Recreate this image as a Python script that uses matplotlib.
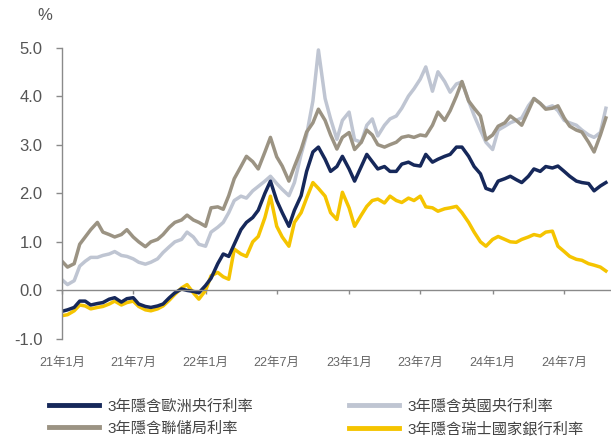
import matplotlib
matplotlib.use("Agg")
import matplotlib.pyplot as plt
import pandas as pd

plt.rcParams['font.family'] = ['Liberation Sans', 'Noto Sans CJK TC', 'DejaVu Sans']
plt.rcParams['axes.unicode_minus'] = False

# semi-monthly observations, Jan 2021 - Oct 2024
dates = pd.date_range("2021-01-01", "2024-10-15", freq="SMS")

ecb = [-0.43, -0.40, -0.35, -0.22, -0.22, -0.30, -0.27, -0.25, -0.18, -0.15,
       -0.24, -0.17, -0.15, -0.28, -0.33, -0.35, -0.32, -0.28, -0.15, -0.05,
       0.03, 0.00, -0.02, -0.05, 0.10, 0.25, 0.55, 0.75, 0.70, 0.95,
       1.25, 1.40, 1.50, 1.65, 2.00, 2.25, 1.85, 1.60, 1.32, 1.65,
       1.95, 2.45, 2.85, 2.95, 2.70, 2.45, 2.55, 2.76, 2.50, 2.25,
       2.55, 2.80, 2.65, 2.50, 2.55, 2.45, 2.45, 2.60, 2.64, 2.58,
       2.56, 2.80, 2.64, 2.70, 2.76, 2.80, 2.95, 2.95, 2.76, 2.55,
       2.40, 2.10, 2.05, 2.25, 2.30, 2.35, 2.28, 2.22, 2.35, 2.50,
       2.45, 2.55, 2.52, 2.56, 2.45, 2.35, 2.25, 2.22, 2.20, 2.05,
       2.15, 2.22]

fed = [0.60, 0.48, 0.55, 0.95, 1.10, 1.25, 1.40, 1.20, 1.15, 1.10,
       1.15, 1.25, 1.10, 1.00, 0.90, 1.00, 1.05, 1.15, 1.30, 1.40,
       1.45, 1.55, 1.45, 1.40, 1.32, 1.70, 1.72, 1.67, 1.95, 2.30,
       2.55, 2.76, 2.65, 2.50, 2.85, 3.15, 2.75, 2.56, 2.25, 2.55,
       2.90, 3.26, 3.45, 3.73, 3.50, 3.20, 2.91, 3.15, 3.25, 2.90,
       3.05, 3.30, 3.20, 3.00, 2.95, 3.00, 3.05, 3.15, 3.18, 3.15,
       3.20, 3.18, 3.40, 3.67, 3.50, 3.70, 4.00, 4.30, 3.90, 3.75,
       3.59, 3.10, 3.20, 3.38, 3.45, 3.59, 3.50, 3.40, 3.70, 3.95,
       3.85, 3.73, 3.75, 3.80, 3.55, 3.38, 3.30, 3.26, 3.05, 2.85,
       3.20, 3.55]

boe = [0.22, 0.12, 0.20, 0.50, 0.60, 0.68, 0.68, 0.72, 0.75, 0.80,
       0.72, 0.70, 0.65, 0.58, 0.54, 0.58, 0.65, 0.78, 0.90, 1.00,
       1.05, 1.20, 1.10, 0.95, 0.91, 1.20, 1.30, 1.40, 1.60, 1.85,
       1.94, 1.90, 2.05, 2.14, 2.25, 2.35, 2.20, 2.08, 1.95, 2.22,
       2.80, 3.20, 3.90, 4.95, 3.95, 3.53, 3.11, 3.50, 3.67, 3.10,
       3.05, 3.40, 3.53, 3.18, 3.40, 3.53, 3.59, 3.75, 4.00, 4.15,
       4.35, 4.60, 4.10, 4.50, 4.30, 4.08, 4.25, 4.29, 3.90, 3.60,
       3.30, 3.05, 2.90, 3.30, 3.38, 3.45, 3.50, 3.55, 3.80, 3.95,
       3.85, 3.75, 3.80, 3.70, 3.50, 3.45, 3.40, 3.30, 3.20, 3.15,
       3.25, 3.75]

snb = [-0.52, -0.50, -0.42, -0.30, -0.32, -0.38, -0.35, -0.33, -0.28, -0.22,
       -0.30, -0.25, -0.22, -0.33, -0.40, -0.42, -0.38, -0.32, -0.20, -0.08,
       0.05, 0.12, -0.05, -0.18, 0.00, 0.30, 0.37, 0.28, 0.23, 0.85,
       0.75, 0.70, 1.00, 1.11, 1.50, 1.94, 1.32, 1.10, 0.91, 1.40,
       1.60, 1.90, 2.22, 2.10, 1.94, 1.60, 1.46, 2.02, 1.70, 1.32,
       1.55, 1.73, 1.85, 1.88, 1.80, 1.94, 1.85, 1.81, 1.90, 1.85,
       1.94, 1.72, 1.70, 1.63, 1.68, 1.70, 1.73, 1.60, 1.40, 1.20,
       1.00, 0.91, 1.05, 1.11, 1.05, 1.00, 0.99, 1.05, 1.10, 1.15,
       1.12, 1.20, 1.22, 0.91, 0.80, 0.70, 0.64, 0.62, 0.55, 0.52,
       0.48, 0.40]

labels = ["3年隱含歐洲央行利率", "3年隱含聯儲局利率", "3年隱含英國央行利率", "3年隱含瑞士國家銀行利率"]
colors = ["#16285a", "#9b9383", "#bfc5d2", "#f5c400"]

xtick_dates = pd.to_datetime(["2021-01-01", "2021-07-01", "2022-01-01", "2022-07-01",
                              "2023-01-01", "2023-07-01", "2024-01-01", "2024-07-01"])
xtick_labels = ["21年1月", "21年7月", "22年1月", "22年7月", "23年1月", "23年7月", "24年1月", "24年7月"]
yticks = [-1.0, 0.0, 1.0, 2.0, 3.0, 4.0, 5.0]

fig = plt.figure(figsize=(6.11, 4.40), dpi=100)
ax = fig.add_axes([62/611, 1-339/440, 1-62/611, (339-47.5)/440])

lw = 2.5
l_boe, = ax.plot(dates, boe, color=colors[2], lw=lw, label=labels[2])
l_fed, = ax.plot(dates, fed, color=colors[1], lw=lw, label=labels[1])
l_snb, = ax.plot(dates, snb, color=colors[3], lw=lw, label=labels[3])
l_ecb, = ax.plot(dates, ecb, color=colors[0], lw=lw, label=labels[0])

ax.set_ylim(-1, 5)
ax.set_xlim(pd.Timestamp("2021-01-01"), pd.Timestamp("2024-10-28"))
ax.set_yticks(yticks)
ax.set_yticklabels([f"{v:.1f}" for v in yticks])
ax.set_xticks(xtick_dates)
ax.set_xticklabels(xtick_labels)

for s in ["top", "right"]:
    ax.spines[s].set_visible(False)
ax.spines["bottom"].set_position(("data", 0))
for s in ["left", "bottom"]:
    ax.spines[s].set_color("#8a8a8a")
    ax.spines[s].set_linewidth(1.0)

ax.tick_params(axis="y", direction="out", length=4, width=1, color="#8a8a8a",
               labelsize=12, labelcolor="#555555", pad=10)
ax.tick_params(axis="x", direction="out", length=3, width=1, color="#8a8a8a",
               labelsize=9, labelcolor="#666666", pad=45)

fig.text(45/611, 1-15/440, "%", ha="center", va="center", fontsize=12, color="#555555")

leg = fig.legend(handles=[l_ecb, l_fed, l_boe, l_snb], labels=labels,
                 ncol=2, loc="upper left", bbox_to_anchor=(49/611, 1-399/440),
                 frameon=False, fontsize=11, handlelength=3.3, handletextpad=0.5,
                 columnspacing=6.3, labelspacing=0.52, borderpad=0, borderaxespad=0)
for t in leg.get_texts():
    t.set_color("#444444")
for h in leg.get_lines():
    h.set_linewidth(3.5)

fig.savefig("out.png", dpi=100)
